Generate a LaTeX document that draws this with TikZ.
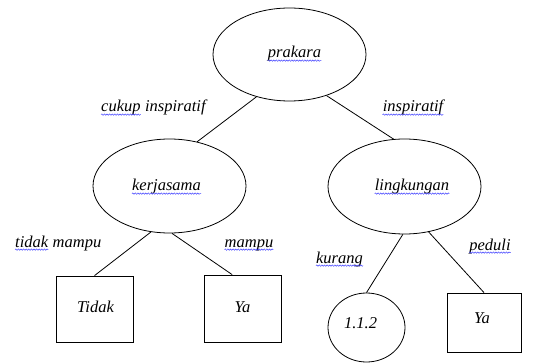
\documentclass[tikz,border=0pt]{standalone}
\usepackage{fontspec}
\setmainfont{Liberation Serif}
\usetikzlibrary{shapes.geometric,decorations.pathmorphing}
\tikzset{
  txt/.style={font=\fontsize{16.5}{18}\selectfont\itshape, inner sep=0pt, anchor=base},
  oval/.style={draw, ellipse, line width=0.8pt, inner sep=0pt},
  leaf/.style={draw, rectangle, line width=0.8pt, inner sep=0pt},
  edge/.style={line width=0.8pt},
  wavy/.style={draw=blue!75, line width=0.5pt, decorate, decoration={snake, amplitude=0.7pt, segment length=2.6pt}}
}
\newcommand{\wavyunder}[1]{\path[wavy] ([yshift=-2.6pt]#1.base west) -- ([yshift=-2.6pt]#1.base east);}
\begin{document}
\begin{tikzpicture}[x=1pt,y=-1pt]
\useasboundingbox (0,0) rectangle (537,363);
% shapes
\node[oval, minimum width=153pt, minimum height=93pt] (prakara) at (289.5,54.5) {};
\node[oval, minimum width=153pt, minimum height=94pt] (kerja) at (169.5,186) {};
\node[oval, minimum width=153pt, minimum height=95pt] (lingk) at (404.5,186.5) {};
\node[leaf, minimum width=77pt, minimum height=66pt] (tidak) at (94.5,309) {};
\node[leaf, minimum width=77pt, minimum height=67pt] (ya1) at (242.5,308.5) {};
\node[oval, minimum width=77pt, minimum height=69pt] (c112) at (366.5,327.5) {};
\node[leaf, minimum width=74pt, minimum height=59pt] (ya2) at (484,322.5) {};
% connectors
\draw[edge] (prakara.232) -- (kerja.58);
\draw[edge] (prakara.312) -- (lingk.103);
\draw[edge] (kerja.248) -- (tidak.north);
\draw[edge] (kerja.273) -- (ya1.107);
\draw[edge] (lingk.268) -- (c112.north);
\draw[edge] (lingk.298) -- (ya2.north);
% node texts
\node[txt] (tprakara) at (294.5,58) {prakara};
\node[txt] (tkerja) at (166.5,191) {kerjasama};
\node[txt] (tlingk) at (412,191) {lingkungan};
\node[txt] (ttidak) at (95.5,312) {Tidak};
\node[txt] (tya1) at (242.5,312) {Ya};
\node[txt] (t112) at (360.5,328) {1.1.2};
\node[txt] (tya2) at (482,323) {Ya};
% edge labels
\node[txt, anchor=base west] (lcukup) at (101,112) {cukup};
\node[txt, anchor=base west] (linsp1) at ([xshift=4.1pt]lcukup.base east) {inspiratif};
\node[txt] (linsp2) at (413,112) {inspiratif};
\node[txt, anchor=base west] (ltidak) at (15,247) {tidak};
\node[txt, anchor=base west] (lmampu1) at ([xshift=4.1pt]ltidak.base east) {mampu};
\node[txt] (lmampu2) at (249,247) {mampu};
\node[txt] (lkurang) at (339.5,263) {kurang};
\node[txt] (lpeduli) at (490,250) {peduli};
% spell-check underlines
\wavyunder{tprakara}
\wavyunder{tkerja}
\wavyunder{tlingk}
\wavyunder{lcukup}
\wavyunder{linsp2}
\wavyunder{ltidak}
\wavyunder{lmampu2}
\wavyunder{lkurang}
\wavyunder{lpeduli}
\end{tikzpicture}
\end{document}
